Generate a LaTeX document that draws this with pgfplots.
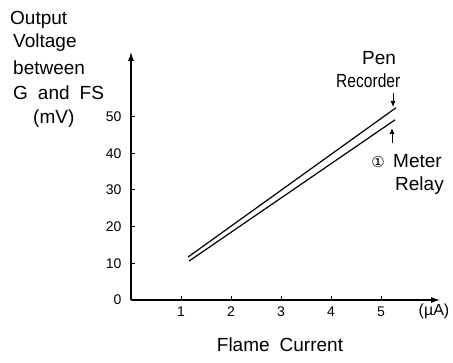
\documentclass[border=0pt]{standalone}
\usepackage{pgfplots}
\pgfplotsset{compat=1.18}
\usepackage{fontspec}
\setmainfont{Liberation Sans}
\newfontfamily\dejavu{DejaVu Sans}
\usetikzlibrary{arrows.meta}
\begin{document}
\begin{tikzpicture}
\useasboundingbox (-131pt,-63pt) rectangle (322pt,300pt);
\begin{axis}[
  at={(0pt,0pt)}, anchor=south west,
  scale only axis, width=309pt, height=248pt,
  xmin=0, xmax=6.18, ymin=0, ymax=67.6,
  axis lines=left,
  axis line style={line width=1.1pt, -{Latex[length=9pt,width=6pt]}},
  xtick={1,2,3,4,5}, ytick={0,10,20,30,40,50},
  tick align=inside, major tick length=4pt,
  tick style={line width=0.9pt, black},
  /pgf/number format/assume math mode=true,
  ticklabel style={font=\fontsize{14}{16}\selectfont},
  yticklabel style={xshift=-6pt},
  xticklabel style={yshift=-3pt},
  clip=false,
]
\addplot[black, line width=1.2pt] coordinates {(1.14,11.7) (5.30,52.4)};
\addplot[black, line width=1.2pt] coordinates {(1.16,10.6) (5.28,49.1)};
\end{axis}
\begin{scope}[every node/.style={inner sep=0pt, font=\fontsize{19}{23}\selectfont}]
\node[anchor=base west] at (-121pt,275pt) {Output};
\node[anchor=base west] at (-118pt,252pt) {Voltage};
\node[anchor=base west] at (-118pt,225pt) {between};
\node[anchor=base west] at (-118pt,200pt) {G\hspace{0.25em} and\hspace{0.25em} FS};
\node[anchor=base west] at (-98pt,176pt) {(mV)};
\node[anchor=base west] at (231pt,235pt) {Pen};
\node[anchor=base west] at (205pt,212pt) {\scalebox{0.82}[1]{Recorder}};
\node[anchor=base west] at (262pt,132pt) {Meter};
\node[anchor=base west] at (264pt,109pt) {Relay};
\node[anchor=center, font=\dejavu\fontsize{15}{17}\selectfont] at (247pt,138pt) {①};
\node[anchor=center, font=\fontsize{16}{18}\selectfont] at (303pt,-11pt) {(µA)};
\node[anchor=center] at (149pt,-45pt) {Flame\hspace{0.25em} Current};
\end{scope}
\draw[line width=1pt, -{Latex[length=6pt,width=5pt]}] (262pt,207pt) -- (262pt,193pt);
\draw[line width=1pt, -{Latex[length=6pt,width=5pt]}] (261pt,157pt) -- (261pt,172pt);
\end{tikzpicture}
\end{document}
